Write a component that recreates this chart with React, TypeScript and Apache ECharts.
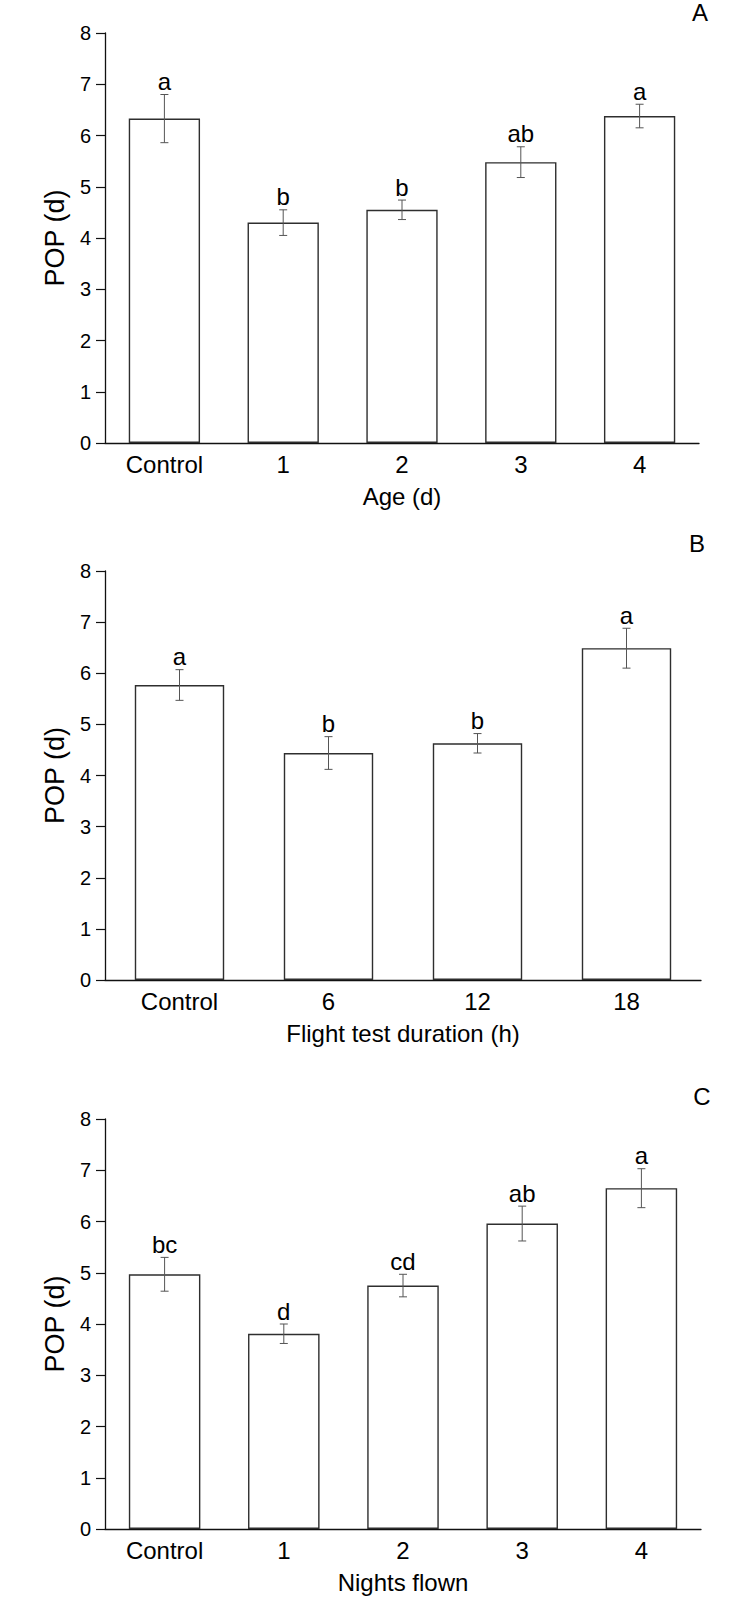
import React, { useEffect, useRef } from "react";
import * as echarts from "echarts";

const FONT = '"Liberation Sans", Arial, Helvetica, sans-serif';

// Panel A: Age (d)
const catsA = ["Control", "1", "2", "3", "4"];
const meanA = [6.33, 4.3, 4.55, 5.48, 6.38];
const seA = [0.47, 0.25, 0.19, 0.3, 0.23];
const letA = ["a", "b", "b", "ab", "a"];

// Panel B: Flight test duration (h)
const catsB = ["Control", "6", "12", "18"];
const meanB = [5.77, 4.44, 4.63, 6.49];
const seB = [0.3, 0.32, 0.19, 0.39];
const letB = ["a", "b", "b", "a"];

// Panel C: Nights flown
const catsC = ["Control", "1", "2", "3", "4"];
const meanC = [4.97, 3.81, 4.75, 5.96, 6.65];
const seC = [0.33, 0.19, 0.22, 0.34, 0.38];
const letC = ["bc", "d", "cd", "ab", "a"];

const yMin = 0;
const yMax = 8;
const yStep = 1;

const panels = [
  { cats: catsA, mean: meanA, se: seA, lets: letA, xName: "Age (d)", tag: "A" },
  { cats: catsB, mean: meanB, se: seB, lets: letB, xName: "Flight test duration (h)", tag: "B" },
  { cats: catsC, mean: meanC, se: seC, lets: letC, xName: "Nights flown", tag: "C" },
];

const grids = [
  { left: 105, top: 33, width: 594, height: 410 },
  { left: 105, top: 571, width: 596, height: 409 },
  { left: 105, top: 1119, width: 596, height: 410 },
];

const tagPos = [
  { x: 700, y: 0 },
  { x: 697, y: 531 },
  { x: 702, y: 1084 },
];

export default function App() {
  const ref = useRef<HTMLDivElement>(null);
  useEffect(() => {
    if (!ref.current) return;
    const chart = echarts.init(ref.current, undefined, { renderer: "svg" });

    const xAxis: any[] = [];
    const yAxis: any[] = [];
    const series: any[] = [];

    panels.forEach((p, i) => {
      xAxis.push({
        type: "category",
        gridIndex: i,
        data: p.cats,
        axisLine: { lineStyle: { color: "#111", width: 1.3 } },
        axisTick: { alignWithLabel: true, length: 8, lineStyle: { color: "#111", width: 1.2 } },
        axisLabel: { fontSize: 24, color: "#000", margin: 9, fontFamily: FONT },
        name: p.xName,
        nameLocation: "middle",
        nameGap: 41,
        nameTextStyle: { fontSize: 24, color: "#000", fontFamily: FONT },
      });
      yAxis.push({
        type: "value",
        gridIndex: i,
        min: yMin,
        max: yMax,
        interval: yStep,
        splitLine: { show: false },
        axisLine: { show: true, lineStyle: { color: "#111", width: 1.3 } },
        axisTick: { show: true, length: 9, lineStyle: { color: "#111", width: 1.2 } },
        axisLabel: { fontSize: 20, color: "#000", margin: 14, fontFamily: FONT },
        name: "POP (d)",
        nameLocation: "middle",
        nameGap: 27,
        nameTextStyle: { fontSize: 27, color: "#000", fontFamily: FONT },
      });
      series.push({
        type: "bar",
        xAxisIndex: i,
        yAxisIndex: i,
        data: p.mean,
        barWidth: "60%",
        itemStyle: { color: "#fff", borderColor: "#2e2e2e", borderWidth: 1.4 },
        silent: true,
      });
      series.push({
        type: "custom",
        xAxisIndex: i,
        yAxisIndex: i,
        z: 5,
        data: p.mean.map((m, k) => [k, m, p.se[k]]),
        renderItem: (params: any, api: any) => {
          const x = api.value(0);
          const m = api.value(1);
          const s = api.value(2);
          const top = api.coord([x, m + s]);
          const bot = api.coord([x, m - s]);
          const hw = 4;
          const st = { stroke: "#555", lineWidth: 1 };
          return {
            type: "group",
            children: [
              { type: "line", shape: { x1: top[0], y1: top[1], x2: bot[0], y2: bot[1] }, style: st },
              { type: "line", shape: { x1: top[0] - hw, y1: top[1], x2: top[0] + hw, y2: top[1] }, style: st },
              { type: "line", shape: { x1: bot[0] - hw, y1: bot[1], x2: bot[0] + hw, y2: bot[1] }, style: st },
              {
                type: "text",
                style: {
                  text: p.lets[params.dataIndex],
                  x: top[0],
                  y: top[1] - 1,
                  align: "center",
                  verticalAlign: "bottom",
                  fontSize: 24,
                  fontFamily: FONT,
                  fill: "#000",
                },
              },
            ],
          };
        },
      });
    });

    chart.setOption({
      animation: false,
      backgroundColor: "#fff",
      grid: grids.map((g) => ({ ...g, containLabel: false })),
      xAxis,
      yAxis,
      series,
      graphic: panels.map((p, i) => ({
        type: "text",
        x: tagPos[i].x,
        y: tagPos[i].y,
        style: {
          text: p.tag,
          fontSize: 24,
          fontFamily: FONT,
          fill: "#000",
          align: "center",
          verticalAlign: "top",
        },
      })),
    });
    return () => chart.dispose();
  }, []);

  return (
    <div
      ref={ref}
      style={{ position: "fixed", left: 0, top: 0, width: 753, height: 1599, background: "#fff" }}
    />
  );
}
